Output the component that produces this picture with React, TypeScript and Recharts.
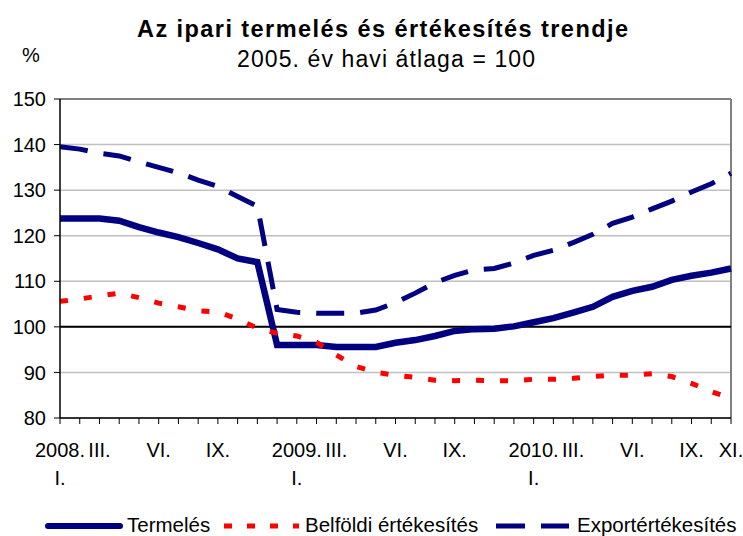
import React from 'react';
import { LineChart, Line, XAxis, YAxis, CartesianGrid, ReferenceLine, Legend } from 'recharts';

const categories = [
  '2008. I.', '2008. II.', '2008. III.', '2008. IV.', '2008. V.', '2008. VI.', '2008. VII.', '2008. VIII.', '2008. IX.', '2008. X.', '2008. XI.', '2008. XII.',
  '2009. I.', '2009. II.', '2009. III.', '2009. IV.', '2009. V.', '2009. VI.', '2009. VII.', '2009. VIII.', '2009. IX.', '2009. X.', '2009. XI.', '2009. XII.',
  '2010. I.', '2010. II.', '2010. III.', '2010. IV.', '2010. V.', '2010. VI.', '2010. VII.', '2010. VIII.', '2010. IX.', '2010. X.', '2010. XI.',
];

const xTickLabels = [
  '2008.|I.', '', 'III.', '', '', 'VI.', '', '', 'IX.', '', '', '',
  '2009.|I.', '', 'III.', '', '', 'VI.', '', '', 'IX.', '', '', '',
  '2010.|I.', '', 'III.', '', '', 'VI.', '', '', 'IX.', '', 'XI.',
];

const termeles = [
  123.8, 123.8, 123.8, 123.3, 121.9, 120.7, 119.7, 118.4, 117.0, 115.0, 114.2, 96.0,
  96.0, 96.0, 95.6, 95.6, 95.6, 96.5, 97.1, 98.0, 99.1, 99.5, 99.6, 100.1,
  101.0, 101.9, 103.1, 104.4, 106.6, 107.9, 108.8, 110.3, 111.2, 111.9, 112.8,
];

const belfoldi = [
  105.6, 106.1, 106.8, 107.4, 106.4, 105.2, 104.4, 103.5, 103.3, 101.7, 99.7, 98.6,
  98.0, 96.6, 93.8, 91.3, 90.0, 89.4, 88.9, 88.3, 88.2, 88.3, 88.2, 88.2,
  88.5, 88.5, 88.7, 89.1, 89.4, 89.4, 89.7, 89.1, 87.6, 85.8, 84.3,
];

const export_ = [
  139.5, 139.0, 138.1, 137.5, 136.2, 135.0, 133.8, 132.2, 130.8, 128.6, 126.5, 103.8,
  103.2, 103.0, 103.0, 103.0, 103.7, 105.3, 107.4, 109.7, 111.3, 112.5, 112.8, 114.0,
  115.7, 116.8, 118.5, 120.3, 122.7, 124.1, 125.9, 127.6, 129.6, 131.4, 133.7,
];

const yTicks = [80, 90, 100, 110, 120, 130, 140, 150];

const seriesNames = ['Termelés', 'Belföldi értékesítés', 'Exportértékesítés'];

const data = categories.map((c, i) => ({
  month: c,
  termeles: termeles[i],
  belfoldi: belfoldi[i],
  export: export_[i],
}));

const FONT = '"Liberation Sans", Arial, sans-serif';
const NAVY = '#000080';
const RED = '#FF0000';

const XTick = (props: any) => {
  const { x, y, payload } = props;
  const label = xTickLabels[payload.index] || '';
  if (!label) return null;
  const parts = label.split('|');
  return (
    <g>
      <text x={x} y={y + 31} textAnchor="middle" fontFamily={FONT} fontSize={20} fill="#000">
        {parts[0]}
      </text>
      {parts[1] ? (
        <text x={x} y={y + 59} textAnchor="middle" fontFamily={FONT} fontSize={20} fill="#000">
          {parts[1]}
        </text>
      ) : null}
    </g>
  );
};

const LegendContent = () => (
  <svg width={743} height={33} style={{ display: 'block' }}>
    <line x1={48} y1={23} x2={120} y2={23} stroke={NAVY} strokeWidth={6} strokeLinecap="round" />
    <text x={127} y={29} fontFamily={FONT} fontSize={20.5} fill="#000">{seriesNames[0]}</text>
    <line x1={224} y1={23} x2={299} y2={23} stroke={RED} strokeWidth={5} strokeDasharray="8 15" />
    <text x={305} y={29} fontFamily={FONT} fontSize={20.5} fill="#000">{seriesNames[1]}</text>
    <line x1={496} y1={23} x2={569} y2={23} stroke={NAVY} strokeWidth={5} strokeDasharray="29 16" />
    <text x={577} y={29} fontFamily={FONT} fontSize={20.5} fill="#000">{seriesNames[2]}</text>
  </svg>
);

export default function App() {
  return (
    <div style={{ position: 'absolute', left: 0, top: 0, width: 743, height: 536, background: '#fff', overflow: 'hidden' }}>
      <LineChart
        width={743}
        height={536}
        data={data}
        margin={{ top: 99, right: 12, bottom: 58, left: 0 }}
      >
        <CartesianGrid horizontal vertical={false} stroke="#c0c0c0" strokeWidth={1.5} />
        <XAxis
          dataKey="month"
          interval={0}
          height={60}
          tick={<XTick />}
          tickSize={6}
          tickLine={{ stroke: '#000' }}
          axisLine={{ stroke: '#000', strokeWidth: 1.5 }}
        />
        <YAxis
          domain={[80, 150]}
          ticks={yTicks}
          width={60}
          tickSize={6}
          tickMargin={8}
          tickLine={{ stroke: '#000' }}
          axisLine={{ stroke: '#000', strokeWidth: 1.5 }}
          tick={{ fontFamily: FONT, fontSize: 20, fill: '#000' }}
          allowDecimals={false}
        />
        <ReferenceLine y={150} stroke="#808080" strokeWidth={2} />
        <ReferenceLine x={categories[categories.length - 1]} stroke="#808080" strokeWidth={2} />
        <ReferenceLine y={100} stroke="#000" strokeWidth={2} />
        <Line
          type="linear"
          dataKey="termeles"
          name={seriesNames[0]}
          stroke={NAVY}
          strokeWidth={6.5}
          dot={false}
          isAnimationActive={false}
        />
        <Line
          type="linear"
          dataKey="belfoldi"
          name={seriesNames[1]}
          stroke={RED}
          strokeWidth={5}
          strokeDasharray="8 16"
          dot={false}
          isAnimationActive={false}
        />
        <Line
          type="linear"
          dataKey="export"
          name={seriesNames[2]}
          stroke={NAVY}
          strokeWidth={5}
          strokeDasharray="28 16"
          dot={false}
          isAnimationActive={false}
        />
        <Legend
          layout="horizontal"
          verticalAlign="middle"
          align="center"
          wrapperStyle={{ top: 503, left: 0, width: 743, height: 33 }}
          content={<LegendContent />}
        />
      </LineChart>
      <svg width={743} height={80} style={{ position: 'absolute', left: 0, top: 0, pointerEvents: 'none' }}>
        <text x={382.5} y={37} textAnchor="middle" fontFamily={FONT} fontSize={23.5} fontWeight="bold" fill="#000" textLength={491} lengthAdjust="spacing">
          Az ipari termelés és értékesítés trendje
        </text>
        <text x={386} y={67} textAnchor="middle" fontFamily={FONT} fontSize={23} fill="#000" textLength={298} lengthAdjust="spacing">
          2005. év havi átlaga = 100
        </text>
        <text x={22} y={62} fontFamily={FONT} fontSize={20} fill="#000">%</text>
      </svg>
    </div>
  );
}
